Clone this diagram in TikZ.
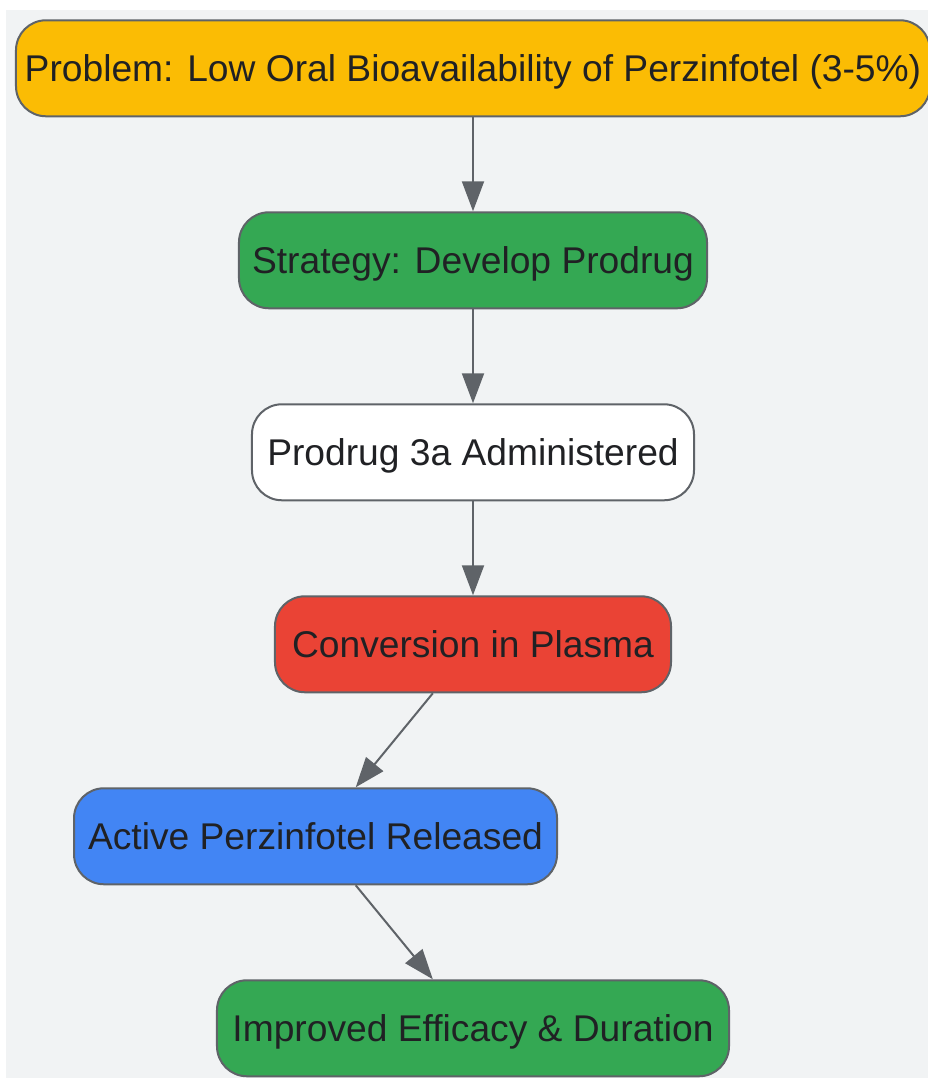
\documentclass[tikz,border=0pt]{standalone}
\usepackage{fontspec}
\setmainfont{Liberation Sans}
\usepackage{tikz}
\usetikzlibrary{
  arrows.meta,
  chains,
  matrix,
  scopes
}
\definecolor{paper}{HTML}{F1F3F4}
\definecolor{edgegray}{HTML}{5F6368}
\definecolor{inkgray}{HTML}{202124}
\definecolor{probyellow}{HTML}{FBBC04}
\definecolor{stepgreen}{HTML}{34A853}
\definecolor{plasmared}{HTML}{EA4335}
\definecolor{activeblue}{HTML}{4285F4}

\begin{document}
\begin{tikzpicture}[
      x=0.75pt,y=-0.75pt,
      stage/.style={
         rectangle,
         rounded corners=22.5pt,
         minimum height=72pt,
         line width=1.5pt,
         draw=edgegray,
         text=inkgray,
         font=\fontsize{27.9}{33}\selectfont,
         text height=20pt,
         text depth=0pt
      },
      tip/.style={-{Triangle[length=22.5pt,width=16.5pt]},line width=1.5pt,draw=edgegray}
    ]
    \useasboundingbox (0,0) rectangle (928,1078);
    \fill[paper] (6,10) rectangle (928,1078);
    \matrix (chart) [row sep=70.5pt, inner sep=0pt, anchor=north] at (473,19) {
\node (n11) [stage, fill=probyellow, minimum width=685.5pt] {Problem: Low Oral Bioavailability of Perzinfotel (3-5\%)};\\
\node (n21) [stage, fill=stepgreen, minimum width=351pt] {Strategy: Develop Prodrug};\\
\node (n31) [stage, fill=white, minimum width=331.5pt] {Prodrug 3a Administered};\\
\node (n41) [stage, fill=plasmared, minimum width=297pt] {Conversion in Plasma};\\
\node (n51) [stage, fill=activeblue, minimum width=362.25pt, xshift=-118.1pt] {Active Perzinfotel Released};\\
\node (n61) [stage, fill=stepgreen, minimum width=384pt] {Improved Efficacy \& Duration};\\
    };
  { [start chain]
       \chainin (n11);
       \chainin (n21)    [join=by tip];
  }
  { [start chain]
       \chainin (n21);
       \chainin (n31)    [join=by tip];
  }
  { [start chain]
       \chainin (n31);
       \chainin (n41)    [join=by tip];
  }
  { [start chain]
       \chainin (n41);
       \chainin (n51)    [join=by tip];
  }
  { [start chain]
       \chainin (n51);
       \chainin (n61)    [join=by tip];
  }
\end{tikzpicture}
\end{document}
